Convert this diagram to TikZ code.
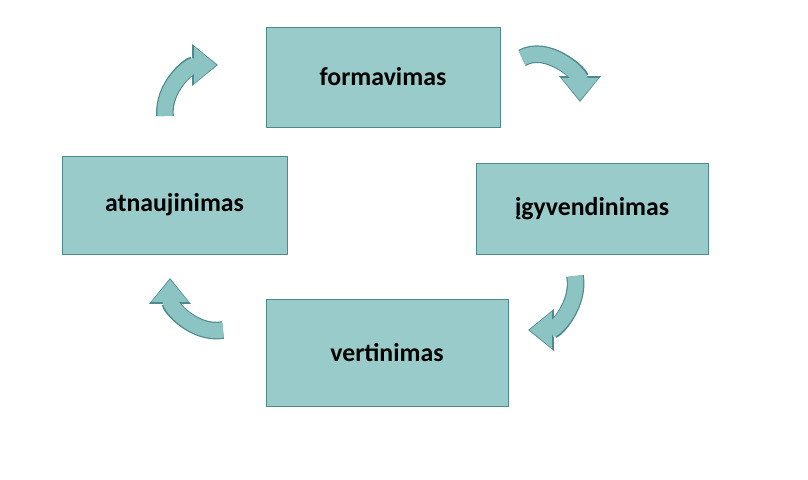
\documentclass[tikz,border=0pt]{standalone}
\usepackage{fontspec}
\setmainfont{Carlito}
\usetikzlibrary{arrows.meta}
\definecolor{boxfill}{HTML}{9ACBCB}
\definecolor{boxline}{HTML}{4F8A8A}
\definecolor{arrfill}{HTML}{8CC4C4}
\tikzstyle{stage}=[draw=boxline,fill=boxfill,inner sep=0pt,font=\fontsize{22}{26}\selectfont\bfseries]
\tikzstyle{bendout}=[line width=15pt,draw=boxline,-{Triangle[length=22pt,width=34pt]}]
\tikzstyle{bendin}=[line width=13pt,draw=arrfill,-{Triangle[length=19pt,width=30pt]},shorten >=1.3pt]

\begin{document}
\begin{tikzpicture}[x=0.03cm,y=0.03cm]
\useasboundingbox (0,0) rectangle (808,480);
\node[stage, minimum width=234*0.03cm, minimum height=100*0.03cm] (F) at (383,403) {formavimas};
\node[stage, minimum width=225*0.03cm, minimum height=98*0.03cm] (A) at (174.5,275) {atnaujinimas};
\node[stage, minimum width=232*0.03cm, minimum height=91*0.03cm] (I) at (592,271.5) {įgyvendinimas};
\node[stage, minimum width=242*0.03cm, minimum height=107*0.03cm] (V) at (387,127.5) {vertinimas};
\coordinate (TL1) at (165,364);
\coordinate (TL2) at (218,415);
\coordinate (TR1) at (522,422);
\coordinate (TR2) at (580,378);
\coordinate (BR1) at (575,204);
\coordinate (BR2) at (528,150);
\coordinate (BL1) at (223,150);
\coordinate (BL2) at (170,202);
\draw[bendout] (TL1) to[out=95,in=180] (TL2);
\draw[bendin] (TL1) to[out=95,in=180] (TL2);
\draw[bendout] (TR1) to[out=30,in=90] (TR2);
\draw[bendin] (TR1) to[out=30,in=90] (TR2);
\draw[bendout] (BR1) to[out=-80,in=0] (BR2);
\draw[bendin] (BR1) to[out=-80,in=0] (BR2);
\draw[bendout] (BL1) to[out=190,in=-90] (BL2);
\draw[bendin] (BL1) to[out=190,in=-90] (BL2);
\end{tikzpicture}
\end{document}
